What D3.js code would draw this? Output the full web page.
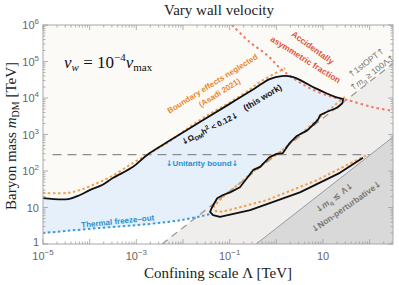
<!DOCTYPE html>
<html><head><meta charset="utf-8">
<script src="https://cdn.jsdelivr.net/npm/d3@7"></script>
<style>body{margin:0;background:#fff}</style></head>
<body>
<svg id="c" width="399" height="285"></svg>
<script>
// ---- data (Λ [TeV], m_DM [TeV]) ----
const thermal=[[1e-5,2.0],[1.66e-4,2.75],[1.95e-3,3.55],[0.01,4.6],[0.038,6.6]];
const blackUpper=[[1e-5,18],[3.5e-5,17],[6.2e-5,22],[1.0e-4,30],[1.9e-4,42],[3.2e-4,65],[8.5e-4,130],
  [1.7e-3,275],[4.6e-3,620],[0.023,2200],[0.10,6900],[0.35,18600],[0.72,33000],[1.3,40000],[2.2,38000],
  [3.5,29500],[6.8,18600],[12.9,12900],[18,10700]];
const blackJagged=[[18,10700],[27,9300],[26,7200],[20,5400],[12.3,4200],[8.7,3400],[7.8,2500],[6.8,2100],
  [4.6,1300],[2.75,910],[1.95,590],[1.38,310],[1.02,295],[0.72,240],[0.45,130],[0.32,107],[0.195,47],
  [0.166,36],[0.102,26],[0.072,22],[0.054,18],[0.042,10.2],[0.038,7.6],[0.044,6.2],[0.062,5.5]];
const blackLower=[[0.062,5.5],[0.275,8.5],[3.2,26],[23,89],[72,230]];
const orangeLeft=[[1e-5,25],[3.2e-5,25],[6.2e-5,30],[1.2e-4,42],[2.8e-4,69],[8.5e-4,166],[1.95e-3,310],
  [4.6e-3,590],[0.023,2500],[0.166,11200],[0.49,29500],[1.55,66000]];
const orangeRight=[[29.5,10700],[8.7,3000],[3.2,980],[1.2,330],[0.45,138],[0.166,47],[0.079,22],[0.046,11],
  [0.051,7.9],[0.069,7.6],[0.63,16],[7.4,56],[87,275]];
const asymFrac=[[0.112,1e6],[0.27,340000],[0.63,151000],[1.2,66000],[2.3,35000],[5.2,18600],[15.5,10700],
  [32,8900],[117,5600],[316,4400]];
const unitarity=280;           // TeV
const unitarityRange=[1.6e-5,100];
const firstOPTratio=280;       // m_DM = 280 Λ
const nonPertRatio=2.7;        // m_DM = 2.7 Λ
const xDomain=[1e-5,Math.pow(10,2.5)];
const yDomain=[1,1e6];
const xLabelExps=[-5,-3,-1,1];
const yLabelExps=[0,1,2,3,4,5,6];

// ---- setup ----
const svg=d3.select("#c");
const L=43,R=393,T=25,B=244;
const x=d3.scaleLog().domain(xDomain).range([L,R]);
const y=d3.scaleLog().domain(yDomain).range([B,T]);
const line=d3.line().x(d=>x(d[0])).y(d=>y(d[1]));
const smooth=d3.line().x(d=>x(d[0])).y(d=>y(d[1])).curve(d3.curveCatmullRom);

svg.append("clipPath").attr("id","clip").append("rect").attr("x",L).attr("y",T).attr("width",R-L).attr("height",B-T);
const g=svg.append("g").attr("clip-path","url(#clip)");

g.append("rect").attr("x",L).attr("y",T).attr("width",R-L).attr("height",B-T).attr("fill","#fcfaf6");
g.append("path").attr("d",line([...thermal,[0.05,thermal[thermal.length-1][1]],[0.05,1],[1e-5,1]])).attr("fill","#ffffff");
const bluePoly=[...thermal,...blackJagged.slice().reverse(),...blackUpper.slice().reverse()];
g.append("path").attr("d",line(bluePoly)).attr("fill","#e6f0fa");
const x0=1/firstOPTratio;
g.append("path").attr("d",line([[x0,1],[xDomain[1],firstOPTratio*xDomain[1]],[xDomain[1],1]])).attr("fill","#efeeec");
g.append("path").attr("d",line([...blackLower,[72,unitarity],[1.0,unitarity],...blackJagged.filter(d=>d[1]<=unitarity)])).attr("fill","#f1efeb");
const x1=1/nonPertRatio;
g.append("path").attr("d",line([[x1,1],[xDomain[1],nonPertRatio*xDomain[1]],[xDomain[1],1]])).attr("fill","#d9d9d9");
g.append("path").attr("d",line([[x1,1],[xDomain[1],nonPertRatio*xDomain[1]]])).attr("stroke","#9a9a9a").attr("stroke-width",1).attr("fill","none");
g.append("path").attr("d",line([[x0,1],[xDomain[1],firstOPTratio*xDomain[1]]])).attr("stroke","#9a9a9a").attr("stroke-width",1.3).attr("stroke-dasharray","7,5").attr("fill","none");
g.append("path").attr("d",line([[unitarityRange[0],unitarity],[unitarityRange[1],unitarity]])).attr("stroke","#8c8c8c").attr("stroke-width",1.3).attr("stroke-dasharray","9,6").attr("fill","none");
g.append("path").attr("d",smooth(thermal)).attr("stroke","#3d9ad8").attr("stroke-width",2).attr("stroke-dasharray","2.5,2.5").attr("fill","none");
g.append("path").attr("d",smooth(asymFrac)).attr("stroke","#ec7a68").attr("stroke-width",2).attr("stroke-dasharray","2.5,3").attr("fill","none");
g.append("path").attr("d",smooth(orangeLeft)).attr("stroke","#f0a050").attr("stroke-width",2).attr("stroke-dasharray","2.5,2.5").attr("fill","none");
g.append("path").attr("d",line(orangeRight)).attr("stroke","#f0a050").attr("stroke-width",2).attr("stroke-dasharray","2.5,2.5").attr("fill","none");
g.append("path").attr("d",smooth(blackUpper)).attr("stroke","#111").attr("stroke-width",1.8).attr("fill","none");
g.append("path").attr("d",line([...blackJagged,...blackLower.slice(1)])).attr("stroke","#111").attr("stroke-width",1.8).attr("fill","none").attr("stroke-linejoin","round");

// frame and ticks
svg.append("rect").attr("x",L).attr("y",T).attr("width",R-L).attr("height",B-T).attr("fill","none").attr("stroke","#a8a8a8").attr("stroke-width",1);
const tk=svg.append("g").attr("stroke","#a0a0a0").attr("stroke-width",0.8);
for(let e=-5;e<=2;e++){for(let k=1;k<10;k++){const v=k*Math.pow(10,e);if(v>xDomain[1])break;const len=k===1?5:2.5;const px=x(v);
  tk.append("line").attr("x1",px).attr("x2",px).attr("y1",B).attr("y2",B-len);
  tk.append("line").attr("x1",px).attr("x2",px).attr("y1",T).attr("y2",T+len);}}
for(let e=0;e<=6;e++){for(let k=1;k<10;k++){const v=k*Math.pow(10,e);if(v>yDomain[1])break;const len=k===1?5:2.5;const py=y(v);
  tk.append("line").attr("y1",py).attr("y2",py).attr("x1",L).attr("x2",L+len);
  tk.append("line").attr("y1",py).attr("y2",py).attr("x1",R).attr("x2",R-len);}}

const tf="Liberation Sans, Arial, sans-serif";
xLabelExps.forEach(e=>{const t=svg.append("text").attr("x",x(Math.pow(10,e))).attr("y",260).attr("text-anchor","middle")
  .attr("font-family",tf).attr("font-size",11).attr("fill","#666");
  if(e===1){t.text("10");}else{t.append("tspan").text("10");t.append("tspan").attr("dy",-5).attr("font-size",8).text("−"+(-e));}});
yLabelExps.forEach(e=>{const t=svg.append("text").attr("x",39).attr("y",y(Math.pow(10,e))+(e===0?2:4)).attr("text-anchor","end")
  .attr("font-family",tf).attr("font-size",11).attr("fill","#666");
  if(e===0)t.text("1");else if(e===1)t.text("10");else{t.append("tspan").text("10");t.append("tspan").attr("dy",-5).attr("font-size",8).text(e);}});

const sf="Liberation Serif, 'DejaVu Serif', serif";
svg.append("text").attr("x",219).attr("y",15).attr("text-anchor","middle").attr("font-family",sf).attr("font-size",15).attr("fill","#222").text("Vary wall velocity");
svg.append("text").attr("x",218).attr("y",278).attr("text-anchor","middle").attr("font-family",sf).attr("font-size",15).attr("fill","#222").text("Confining scale Λ [TeV]");
const yl=svg.append("text").attr("transform","translate(16,136) rotate(-90)").attr("text-anchor","middle").attr("font-family",sf).attr("font-size",15).attr("fill","#222");
yl.append("tspan").text("Baryon mass ");yl.append("tspan").attr("font-style","italic").text("m");
yl.append("tspan").attr("dy",3).attr("font-size",10).text("DM");yl.append("tspan").attr("dy",-3).text(" [TeV]");
const vw=svg.append("text").attr("x",64).attr("y",68).attr("font-family",sf).attr("font-size",17).attr("fill","#111");
vw.append("tspan").attr("font-style","italic").text("v");vw.append("tspan").attr("font-style","italic").attr("dy",3).attr("font-size",11).text("w");
vw.append("tspan").attr("dy",-3).text(" = 10");vw.append("tspan").attr("dy",-7).attr("font-size",11).text("−4");
vw.append("tspan").attr("dy",7).attr("font-style","italic").text("v");vw.append("tspan").attr("dy",3).attr("font-size",11).text("max");

// annotations
const af="DejaVu Sans, sans-serif";
function arrow(t,ch){t.append("tspan").attr("font-family",af).text(ch);}
function ann(cx,cy,rot,color,size,weight,build){const t=svg.append("text").attr("transform",`translate(${cx},${cy}) rotate(${rot})`)
  .attr("text-anchor","middle").attr("font-family",tf).attr("font-size",size).attr("font-weight",weight).attr("fill",color);
  if(typeof build==="string")t.text(build);else build(t);}
const orange="#e8892e",blue="#2b8fd0",red="#e0553f",grey="#787878";
ann(214,86,-32,orange,8,"bold","Boundary effects neglected");
ann(221,95,-32,orange,8,"bold","(Asadi 2021)");
ann(264,100,-31,"#111",8.5,"bold","(this work)");
ann(211,131,-27,"#111",8,"bold",t=>{arrow(t,"↓");t.append("tspan").text("Ω");t.append("tspan").attr("dy",2).attr("font-size",6).text("DM");
  t.append("tspan").attr("dy",-2).text("h");t.append("tspan").attr("dy",-3).attr("font-size",6).text("2");t.append("tspan").attr("dy",3).text(" < 0.12");arrow(t,"↓");});
ann(202,166,0,blue,8,"bold",t=>{arrow(t,"↓");t.append("tspan").text("Unitarity bound");arrow(t,"↓");});
ann(118,224,-6,blue,8,"bold","Thermal freeze–out");
ann(311,50,36,red,8.5,"bold","Accidentally");
ann(304,62,32,red,8.5,"bold","asymmetric fraction");
ann(368,65,-37,grey,8.5,"normal",t=>{arrow(t,"↑");t.append("tspan").text("1stOPT");arrow(t,"↑");});
ann(374,75,-37,grey,8.5,"normal",t=>{arrow(t,"↑");t.append("tspan").attr("font-style","italic").text("m");
  t.append("tspan").attr("dy",2).attr("font-size",6).text("q");t.append("tspan").attr("dy",-2).text(" ≥ 100Λ");arrow(t,"↑");});
ann(336,200,-36,grey,8.5,"bold",t=>{arrow(t,"↓");t.append("tspan").attr("font-style","italic").text("m");
  t.append("tspan").attr("dy",2).attr("font-size",6).text("q");t.append("tspan").attr("dy",-2).text(" ≲ Λ");arrow(t,"↓");});
ann(348,209,-35,grey,8.5,"bold",t=>{arrow(t,"↓");t.append("tspan").text("Non-perturbative");arrow(t,"↓");});
</script>
</body></html>
